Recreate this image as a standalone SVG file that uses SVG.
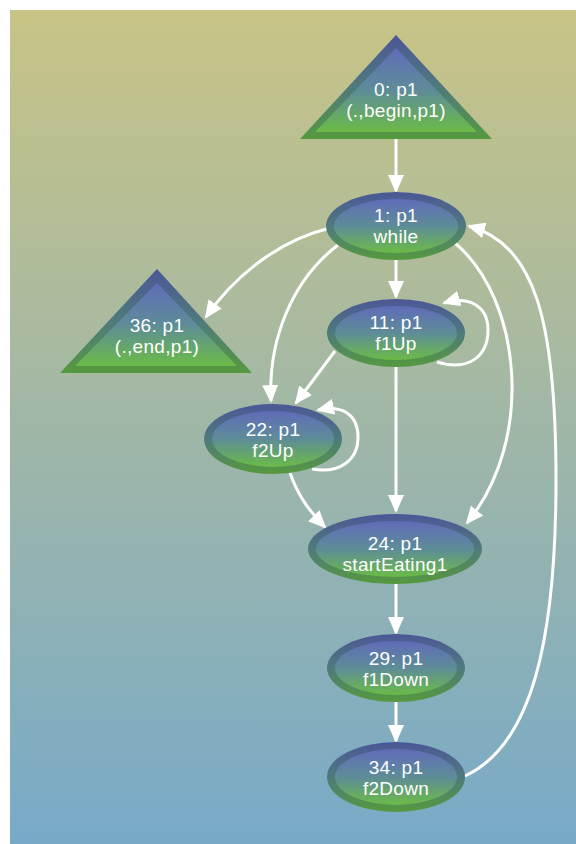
<svg xmlns="http://www.w3.org/2000/svg" width="576" height="844" viewBox="0 0 576 844">
  <defs>
    <linearGradient id="bg" x1="0" y1="0" x2="0" y2="1">
      <stop offset="0" stop-color="#c8c486"/>
      <stop offset="1" stop-color="#78aac8"/>
    </linearGradient>
    <linearGradient id="ring" x1="0" y1="0" x2="0" y2="1">
      <stop offset="0" stop-color="#4b5797"/>
      <stop offset="0.5" stop-color="#4f7a7c"/>
      <stop offset="1" stop-color="#55993e"/>
    </linearGradient>
    <linearGradient id="core" x1="0" y1="0" x2="0" y2="1">
      <stop offset="0" stop-color="#5f6cb9"/>
      <stop offset="0.5" stop-color="#5e8c98"/>
      <stop offset="1" stop-color="#6bbb47"/>
    </linearGradient>
    <marker id="arrow" markerUnits="userSpaceOnUse" markerWidth="18" markerHeight="16" refX="16" refY="8" orient="auto">
      <path d="M0,0 L18,8 L0,16 z" fill="#ffffff"/>
    </marker>
  </defs>
  <style>
    .ring { fill: url(#ring); }
    .core { fill: url(#core); }
    .lbl { fill: #ffffff; font-family: "Liberation Sans", Arial, sans-serif; font-size: 19px; letter-spacing: 0.3px; text-anchor: middle; }
    .edge { fill: none; stroke: #ffffff; stroke-width: 3; marker-end: url(#arrow); }
  </style>

  <rect x="10" y="10" width="566" height="834" fill="url(#bg)"/>

  <g id="edges">
    <path class="edge" d="M396,139 L396,191"/>
    <path class="edge" d="M330,228 C 280,240 235,275 206,317"/>
    <path class="edge" d="M396,259 L396,297"/>
    <path class="edge" d="M338,245 C 292,280 268,340 271,401"/>
    <path class="edge" d="M455,243 C 522,300 535,440 467,523"/>
    <path class="edge" d="M465,776 C 532,745 556,640 556,480 C 556,320 535,245 469,226"/>
    <path class="edge" d="M437,362 C 470,372 488,355 488,330 C 488,305 468,296 444,303"/>
    <path class="edge" d="M335,351 L296,403"/>
    <path class="edge" d="M396,367 L396,511"/>
    <path class="edge" d="M312,469 C 340,474 358,460 358,437 C 358,414 342,405 318,410"/>
    <path class="edge" d="M290,473 C 298,495 308,510 325,527"/>
    <path class="edge" d="M396,584 L396,633"/>
    <path class="edge" d="M396,701 L396,741"/>
  </g>

  <g id="n0">
    <polygon class="ring" points="396,35 492,139 300,139"/>
    <polygon class="core" points="396,48 477,132 315,132"/>
    <text class="lbl" x="396" y="96">0: p1</text>
    <text class="lbl" x="396" y="117">(.,begin,p1)</text>
  </g>

  <g id="n1">
    <ellipse class="ring" cx="396" cy="226" rx="70" ry="34"/>
    <ellipse class="core" cx="396" cy="226" rx="62" ry="27"/>
    <text class="lbl" x="396" y="222">1: p1</text>
    <text class="lbl" x="396" y="243">while</text>
  </g>

  <g id="n36">
    <polygon class="ring" points="157,269 252,373 60,373"/>
    <polygon class="core" points="157,283 237,366 75,366"/>
    <text class="lbl" x="157" y="332">36: p1</text>
    <text class="lbl" x="157" y="353">(.,end,p1)</text>
  </g>

  <g id="n11">
    <ellipse class="ring" cx="396" cy="333" rx="69" ry="34"/>
    <ellipse class="core" cx="396" cy="333" rx="61" ry="27"/>
    <text class="lbl" x="396" y="329">11: p1</text>
    <text class="lbl" x="396" y="350">f1Up</text>
  </g>

  <g id="n22">
    <ellipse class="ring" cx="273" cy="439" rx="69" ry="35"/>
    <ellipse class="core" cx="273" cy="439" rx="61" ry="28"/>
    <text class="lbl" x="273" y="436">22: p1</text>
    <text class="lbl" x="273" y="457">f2Up</text>
  </g>

  <g id="n24">
    <ellipse class="ring" cx="395" cy="549" rx="87" ry="35"/>
    <ellipse class="core" cx="395" cy="549" rx="79" ry="28"/>
    <text class="lbl" x="395" y="550">24: p1</text>
    <text class="lbl" x="395" y="571">startEating1</text>
  </g>

  <g id="n29">
    <ellipse class="ring" cx="396" cy="668" rx="69" ry="34"/>
    <ellipse class="core" cx="396" cy="668" rx="61" ry="27"/>
    <text class="lbl" x="396" y="665">29: p1</text>
    <text class="lbl" x="396" y="686">f1Down</text>
  </g>

  <g id="n34">
    <ellipse class="ring" cx="396" cy="777" rx="69" ry="35"/>
    <ellipse class="core" cx="396" cy="777" rx="61" ry="28"/>
    <text class="lbl" x="396" y="774">34: p1</text>
    <text class="lbl" x="396" y="795">f2Down</text>
  </g>
</svg>
